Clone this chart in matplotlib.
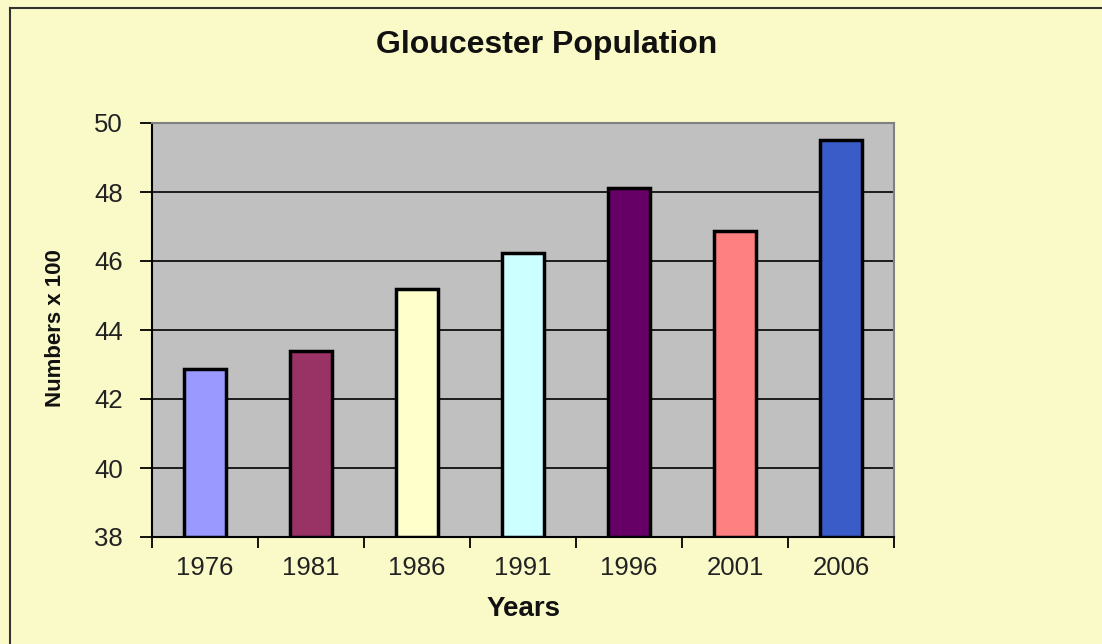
import matplotlib.pyplot as plt
from matplotlib.lines import Line2D
import numpy as np

years = ['1976', '1981', '1986', '1991', '1996', '2001', '2006']
population = [42.87, 43.4, 45.2, 46.24, 48.12, 46.86, 49.5]
bar_colors = ['#9999FF', '#993366', '#FFFFCC', '#CCFFFF', '#660066', '#FF8080', '#3A5CC8']

plt.rcParams['font.family'] = ['Liberation Sans', 'DejaVu Sans']

bg = '#FAFAC8'
fig = plt.figure(figsize=(11.02, 6.44), dpi=100, facecolor=bg)
ax = fig.add_axes([152 / 1102, 107 / 644, 742 / 1102, 414 / 644])
ax.set_facecolor('#C0C0C0')

x = np.arange(len(years))
ax.bar(x, [v - 38 for v in population], bottom=38, width=0.4, color=bar_colors,
       edgecolor='black', linewidth=2.5, zorder=3)

ax.set_xlim(-0.5, len(years) - 0.5)
ax.set_ylim(38, 50)
ax.set_yticks(np.arange(38, 51, 2))
ax.yaxis.grid(True, color='black', linewidth=1.2, zorder=1)
ax.set_axisbelow(True)

ax.set_xticks(x)
ax.set_xticklabels(years)
ax.set_xticks(np.arange(-0.5, len(years)), minor=True)
ax.tick_params(axis='x', which='major', length=0, pad=14, labelsize=18.5, labelcolor='#222222')
ax.tick_params(axis='x', which='minor', length=8, width=1.3, direction='out')
ax.tick_params(axis='y', length=9, width=1.3, pad=12, labelsize=18.5, labelcolor='#222222')

for side in ['left', 'bottom']:
    ax.spines[side].set_color('black')
    ax.spines[side].set_linewidth(1.5)
for side in ['top', 'right']:
    ax.spines[side].set_color('#808080')
    ax.spines[side].set_linewidth(1.5)

fig.text(547 / 1102, 1 - 45 / 644, 'Gloucester Population', ha='center', va='center',
         fontsize=23, fontweight='bold', color='#111111')
fig.text(524 / 1102, 1 - 609 / 644, 'Years', ha='center', va='center',
         fontsize=20, fontweight='bold', color='#111111')
fig.text(56 / 1102, 1 - 328 / 644, 'Numbers x 100', ha='center', va='center', rotation=90,
         fontsize=16, fontweight='bold', color='#111111')

# outer frame (only top and left edges visible)
fig.add_artist(Line2D([10 / 1102, 10 / 1102], [0, 1 - 8 / 644], color='#333333', linewidth=1.5,
                      transform=fig.transFigure))
fig.add_artist(Line2D([10 / 1102, 1], [1 - 8 / 644, 1 - 8 / 644], color='#333333', linewidth=1.5,
                      transform=fig.transFigure))

fig.savefig('out.png', dpi=100, facecolor=bg)
